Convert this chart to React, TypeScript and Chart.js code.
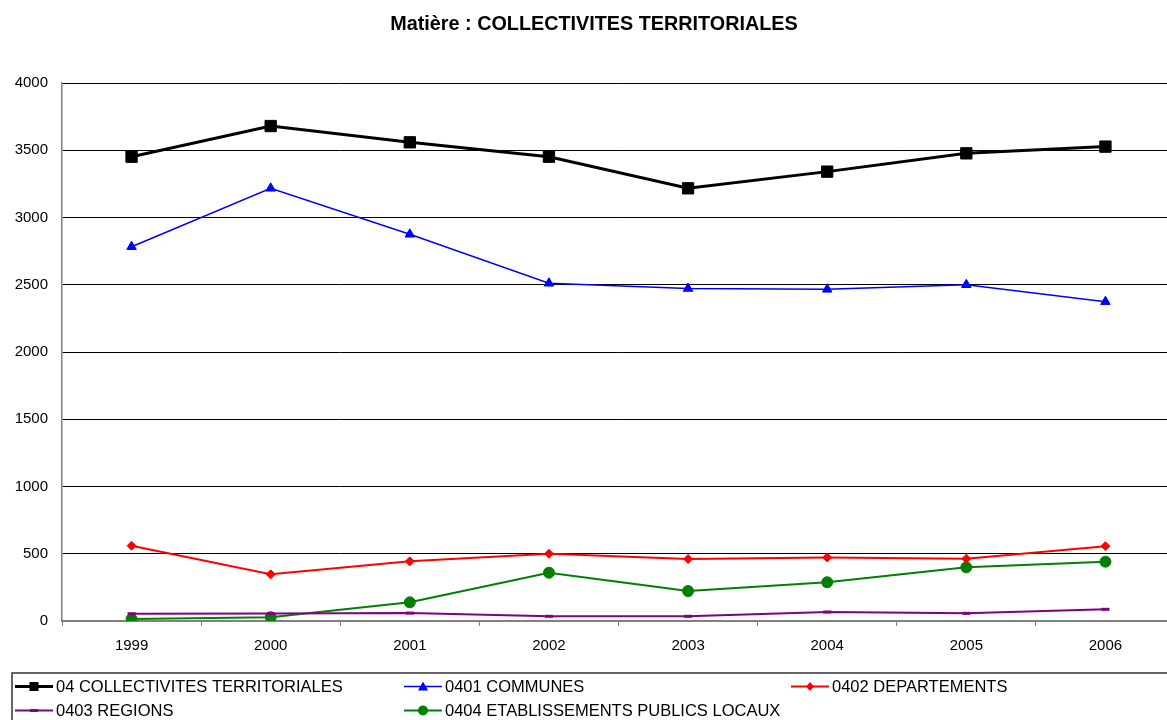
import React, { useEffect, useRef } from "react";
import { Chart, registerables } from "chart.js";

Chart.register(...registerables);

const TITLE = "Matière : COLLECTIVITES TERRITORIALES";
const years = ["1999", "2000", "2001", "2002", "2003", "2004", "2005", "2006"];
const yTicks = [0, 500, 1000, 1500, 2000, 2500, 3000, 3500, 4000];

const seriesNames = [
  "04 COLLECTIVITES TERRITORIALES",
  "0401 COMMUNES",
  "0402 DEPARTEMENTS",
  "0403 REGIONS",
  "0404 ETABLISSEMENTS PUBLICS LOCAUX",
];
const collectivites = [3452, 3680, 3559, 3452, 3217, 3341, 3477, 3527];
const communes = [2783, 3217, 2875, 2511, 2472, 2466, 2500, 2374];
const departements = [560, 347, 444, 500, 461, 472, 463, 556];
const regions = [54, 55, 59, 35, 35, 67, 57, 87];
const etablissements = [15, 28, 139, 359, 223, 288, 399, 441];

const FONT = "Arial, 'Liberation Sans', sans-serif";

function drawMarker(ctx: CanvasRenderingContext2D, kind: string, x: number, y: number, color: string) {
  ctx.save();
  ctx.fillStyle = color;
  ctx.strokeStyle = color;
  ctx.beginPath();
  if (kind === "rect") {
    ctx.rect(x - 4.5, y - 4.5, 9, 9);
    ctx.fill();
  } else if (kind === "triangle") {
    ctx.moveTo(x, y - 5);
    ctx.lineTo(x + 5, y + 4);
    ctx.lineTo(x - 5, y + 4);
    ctx.closePath();
    ctx.fill();
  } else if (kind === "rectRot") {
    ctx.moveTo(x, y - 4.5);
    ctx.lineTo(x + 4, y);
    ctx.lineTo(x, y + 4.5);
    ctx.lineTo(x - 4, y);
    ctx.closePath();
    ctx.fill();
  } else if (kind === "line") {
    ctx.rect(x - 4, y - 1.5, 8, 3);
    ctx.fill();
  } else if (kind === "circle") {
    ctx.arc(x, y, 5, 0, Math.PI * 2);
    ctx.fill();
  }
  ctx.restore();
}

const legendSlots = [
  { x: 15, y: 686.5 },
  { x: 404, y: 686.5 },
  { x: 791, y: 686.5 },
  { x: 15, y: 710.5 },
  { x: 404, y: 710.5 },
];

const decorPlugin = {
  id: "decor",
  afterDraw(chart: any) {
    const ctx = chart.ctx as CanvasRenderingContext2D;
    ctx.save();
    ctx.fillStyle = "#000";
    ctx.font = `bold 19.8px ${FONT}`;
    ctx.textAlign = "center";
    ctx.textBaseline = "middle";
    ctx.fillText(TITLE, chart.width / 2, 25);
    ctx.strokeStyle = "#333";
    ctx.lineWidth = 1.5;
    ctx.strokeRect(12, 673, chart.width - 24, 60);
    ctx.font = `16.5px ${FONT}`;
    ctx.textAlign = "left";
    chart.data.datasets.forEach((ds: any, i: number) => {
      const s = legendSlots[i];
      ctx.strokeStyle = ds.borderColor;
      ctx.lineWidth = ds.borderWidth;
      ctx.beginPath();
      ctx.moveTo(s.x, s.y);
      ctx.lineTo(s.x + 38, s.y);
      ctx.stroke();
      drawMarker(ctx, ds.pointStyle, s.x + 19, s.y, ds.borderColor);
      ctx.fillStyle = "#000";
      ctx.textBaseline = "middle";
      ctx.fillText(ds.label, s.x + 41, s.y + 0.5);
    });
    ctx.restore();
  },
};

export default function App() {
  const ref = useRef<HTMLCanvasElement | null>(null);
  useEffect(() => {
    if (!ref.current) return;
    const chart = new Chart(ref.current, {
      type: "line",
      data: {
        labels: years,
        datasets: [
          {
            label: seriesNames[0],
            data: collectivites,
            borderColor: "#000000",
            backgroundColor: "#000000",
            borderWidth: 3,
            pointStyle: "rect",
            pointRadius: 8,
            pointBorderWidth: 1,
          },
          {
            label: seriesNames[1],
            data: communes,
            borderColor: "#0000FF",
            backgroundColor: "#0000FF",
            borderWidth: 1.5,
            pointStyle: "triangle",
            pointRadius: 5.5,
            pointBorderWidth: 1,
          },
          {
            label: seriesNames[2],
            data: departements,
            borderColor: "#FF0000",
            backgroundColor: "#FF0000",
            borderWidth: 2,
            pointStyle: "rectRot",
            pointRadius: 4.5,
            pointBorderWidth: 1,
          },
          {
            label: seriesNames[3],
            data: regions,
            borderColor: "#800080",
            backgroundColor: "#800080",
            borderWidth: 2,
            pointStyle: "line",
            pointRadius: 4,
            pointBorderWidth: 3,
          },
          {
            label: seriesNames[4],
            data: etablissements,
            borderColor: "#008000",
            backgroundColor: "#008000",
            borderWidth: 2,
            pointStyle: "circle",
            pointRadius: 5.5,
            pointBorderWidth: 1,
          },
        ],
      },
      options: {
        responsive: false,
        animation: false,
        devicePixelRatio: 1,
        layout: { padding: { left: 0, right: 13, top: 83, bottom: 69 } },
        plugins: {
          legend: { display: false },
          title: { display: false },
          tooltip: { enabled: false },
        },
        elements: { line: { tension: 0 } },
        scales: {
          x: {
            offset: true,
            grid: {
              offset: true,
              drawOnChartArea: false,
              drawTicks: true,
              tickLength: 5,
              color: "#808080",
            },
            border: { color: "#808080", width: 1.5 },
            ticks: {
              color: "#000",
              font: { family: FONT, size: 15 },
              padding: 11,
              maxRotation: 0,
            },
            afterFit: (s: any) => {
              s.height = 40;
            },
          },
          y: {
            min: 0,
            max: 4000,
            afterBuildTicks: (s: any) => {
              s.ticks = yTicks.map((v) => ({ value: v }));
            },
            grid: {
              drawTicks: false,
              color: (c: any) => (c.tick && c.tick.value === 0 ? "#808080" : "#000000"),
              lineWidth: 1,
            },
            border: { color: "#808080", width: 1.5 },
            ticks: {
              color: "#000",
              font: { family: FONT, size: 15 },
              padding: 14,
              callback: (v: any) => String(v),
            },
            afterFit: (s: any) => {
              s.width = 62;
            },
          },
        },
      },
      plugins: [decorPlugin],
    } as any);
    return () => chart.destroy();
  }, []);

  return (
    <div
      style={{
        position: "absolute",
        left: 0,
        top: 0,
        width: 1167,
        height: 720,
        overflow: "hidden",
        background: "#fff",
      }}
    >
      <canvas ref={ref} width={1188} height={730} style={{ display: "block" }} />
    </div>
  );
}
